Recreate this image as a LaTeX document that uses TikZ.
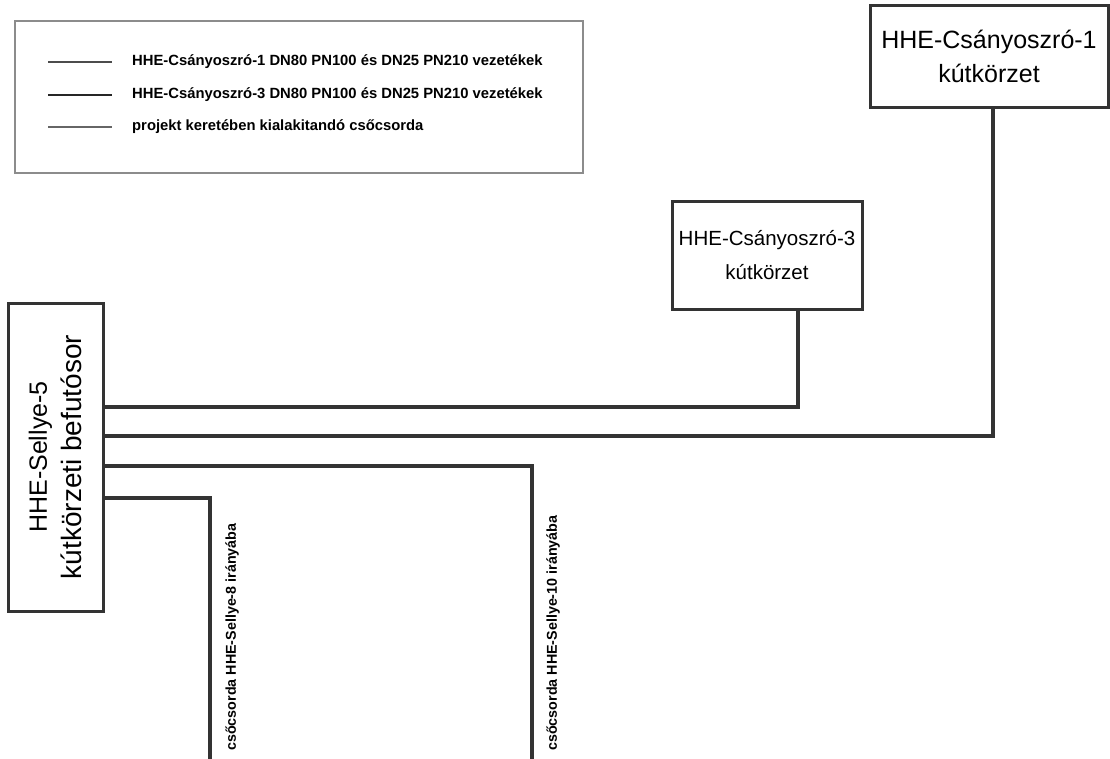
\documentclass[tikz,border=0pt]{standalone}
\usepackage{fontspec}
\setmainfont{Liberation Sans}
\usetikzlibrary{positioning}

\begin{document}
\begin{tikzpicture}[x=1pt, y=-1pt,
  box/.style={draw=black!80, line width=3pt, inner sep=0pt, align=center,
    font=\fontsize{25}{34}\selectfont},
  pipe/.style={draw=black!80, line width=4pt},
  key/.style={line width=2.5pt},
  keytext/.style={anchor=west, inner sep=0pt, font=\bfseries\fontsize{14.8}{18}\selectfont},
  dirtext/.style={rotate=90, anchor=west, inner sep=0pt, font=\bfseries\fontsize{14.3}{18}\selectfont}]
\useasboundingbox (0,0) rectangle (1110,758);

% Legend
\node[draw=black!45, line width=1.5pt, anchor=north west, minimum width=568pt, minimum height=152pt] (legend) at (14,20) {};
\draw[key, black!70] (48,62) -- (112,62);
\draw[key, black!85] (48,95) -- (112,95);
\draw[key, black!60] (48,127) -- (112,127);
\node[keytext] (k1) at (132,62) {HHE-Csányoszró-1 DN80 PN100 és DN25 PN210 vezetékek};
\node[keytext] (k2) at (132,95) {HHE-Csányoszró-3 DN80 PN100 és DN25 PN210 vezetékek};
\node[keytext] (k3) at (132,127) {projekt keretében kialakitandó csőcsorda};

% Well districts
\node[box, minimum width=238pt, minimum height=102pt] (cs1) at (989,56) {HHE-Csányoszró-1\\kútkörzet};
\node[box, minimum width=190pt, minimum height=108pt,
  font=\fontsize{20.5}{34}\selectfont] (cs3) at (767,255) {HHE-Csányoszró-3\\kútkörzet};
\node[box, rotate=90, minimum width=308pt, minimum height=95pt,
  font=\fontsize{25}{35}\selectfont] (sellye) at (55.5,457) {HHE-Sellye-5\\{\fontsize{28}{35}\selectfont kútkörzeti befutósor}};

% Pipes
\coordinate (end8) at (210,762);
\coordinate (end10) at (532,762);
\draw[pipe] ([xshift=31pt]cs3.south) |- (sellye.south |- 0,407);
\draw[pipe] ([xshift=4pt]cs1.south) |- (sellye.south |- 0,436);
\draw[pipe] (sellye.south |- 0,466) -| (end10);
\draw[pipe] (sellye.south |- 0,498) -| (end8);

% Direction labels
\node[dirtext] (d8) at (232,751) {csőcsorda HHE-Sellye-8 irányába};
\node[dirtext] (d10) at (553,751) {csőcsorda HHE-Sellye-10 irányába};
\end{tikzpicture}
\end{document}
